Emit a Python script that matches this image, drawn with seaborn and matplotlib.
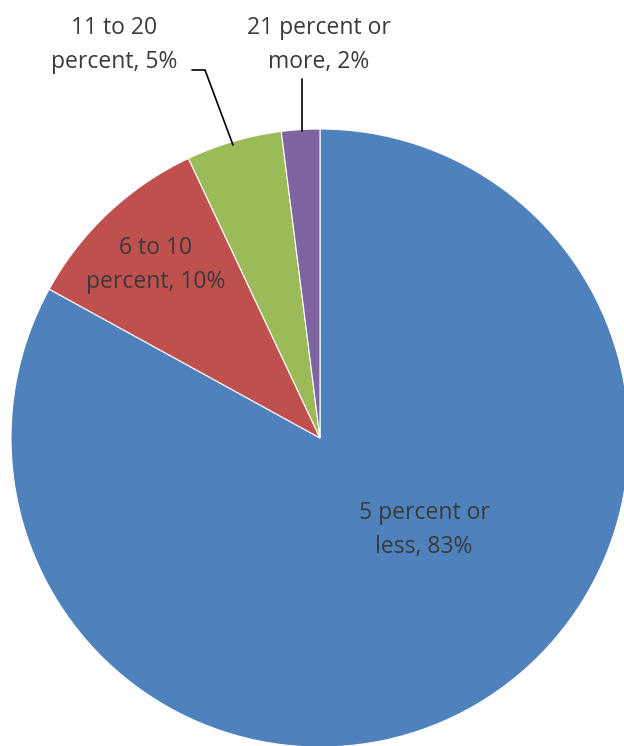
import matplotlib
matplotlib.use("Agg")
import matplotlib.pyplot as plt
import seaborn as sns

categories = ["5 percent or\nless", "6 to 10\npercent", "11 to 20\npercent", "21 percent or\nmore"]
shares = [83, 10, 5, 2]
colors = ["#4F81BD", "#C0504D", "#9BBB59", "#8064A2"]

sns.set_theme(style="white")
plt.rcParams['font.family'] = ['Open Sans', 'DejaVu Sans']

fig = plt.figure(figsize=(6.24, 7.46), dpi=100)
ax = fig.add_axes([0, 0, 1, 1])

# pixel-like coordinates so the pie can run off the right/bottom edge
cx, cy, r = 320, 308, 309
wedges, _ = ax.pie(shares, colors=sns.color_palette(colors), startangle=90,
                   counterclock=False, center=(cx, cy), radius=r,
                   wedgeprops=dict(edgecolor="white", linewidth=0.8))
ax.set_xlim(0, 624)
ax.set_ylim(0, 746)
ax.set_aspect("equal")
ax.axis("off")

labels = [f"{c}, {v}%" for c, v in zip(categories, shares)]
txt = dict(fontsize=16.5, color="#3a3a3a", ha="center", va="center", linespacing=1.55)

ax.text(424, 216, labels[0], **txt)
ax.text(156, 481, labels[1], **txt)
ax.text(114, 701, labels[2], **txt)
ax.text(319, 701, labels[3], **txt)

# leader lines
ax.plot([192, 205, 233], [676, 676, 601], color="black", lw=1.2)
ax.plot([302, 302], [615, 667], color="black", lw=1.2)

fig.savefig("out.png", dpi=100)
